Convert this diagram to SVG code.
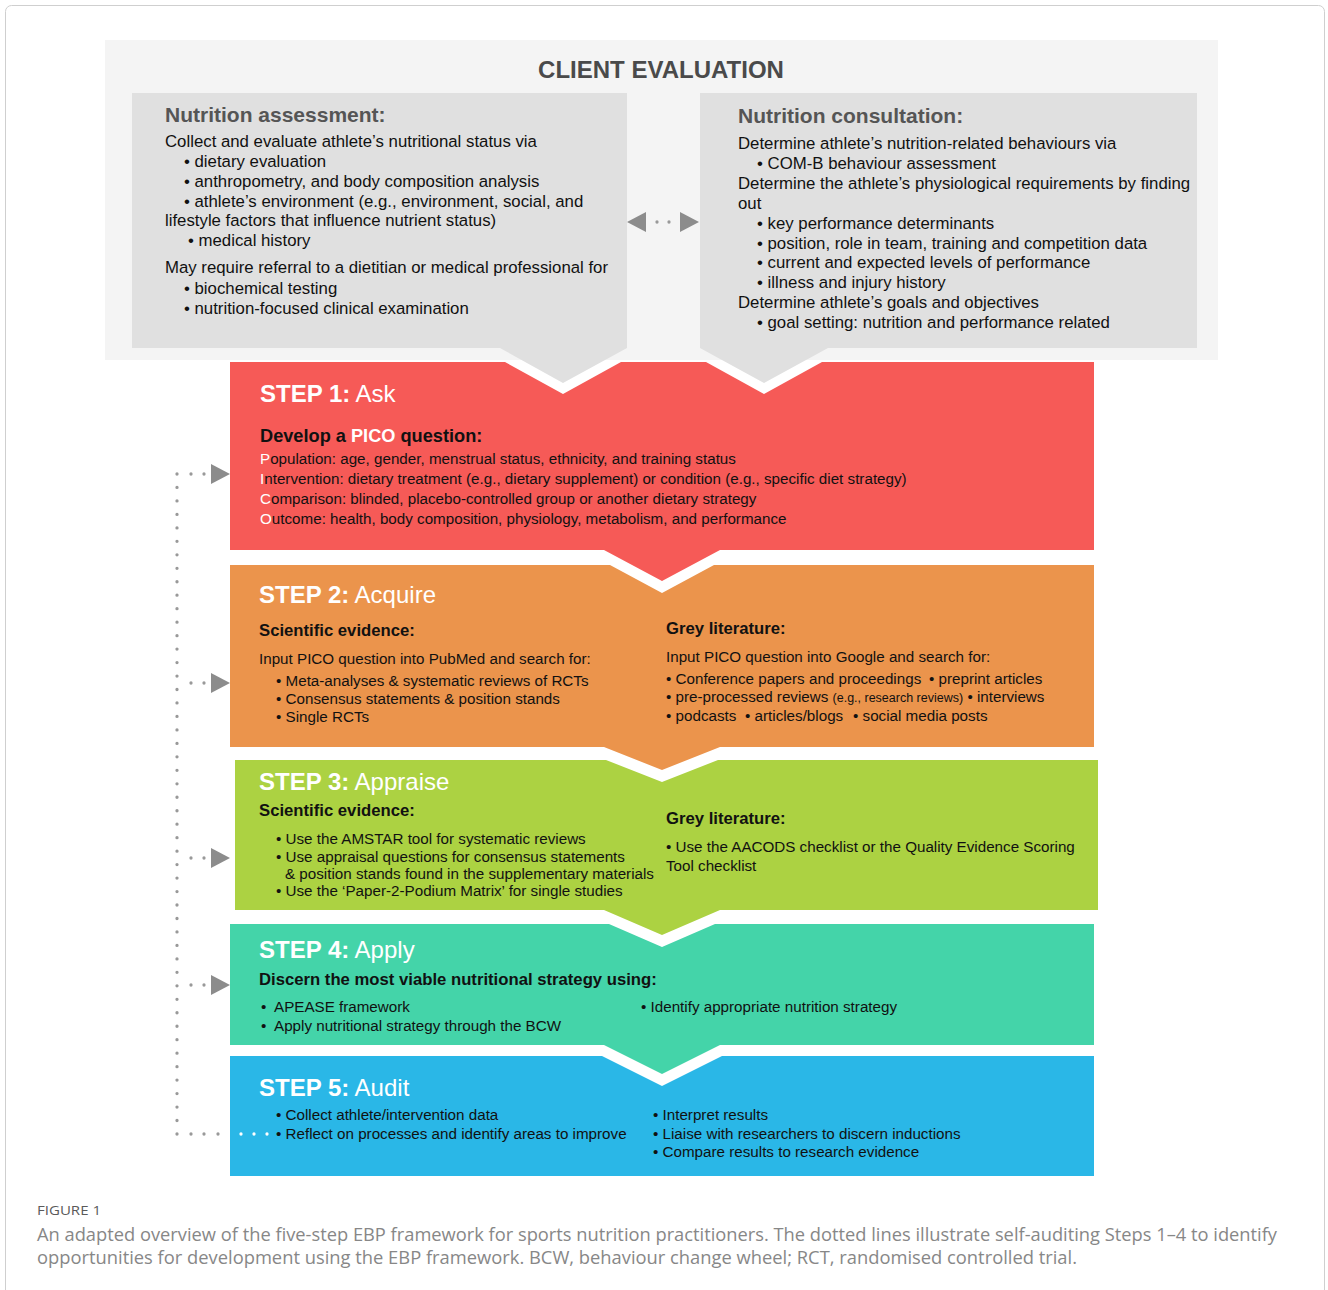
<svg xmlns="http://www.w3.org/2000/svg" width="1328" height="1290" viewBox="0 0 1328 1290">
<style>
text{font-family:"Liberation Sans",Arial,Helvetica,sans-serif}
.gh{font-size:21px;font-weight:bold;fill:#555}
.gb{font-size:16.8px;fill:#111}
.sh{font-size:24px;fill:#fff}
.sq{font-size:18.2px;font-weight:bold;fill:#111}
.ss{font-size:16.7px;font-weight:bold;fill:#111}
.sb{font-size:15.2px;fill:#111}
.w{fill:#fff}
.dot{fill:none;stroke:#999;stroke-width:3.3;stroke-linecap:round}
.d{fill:#999}
.dw{fill:#fff}
.head{fill:#8c8c8c}
.cap{font-family:"Open Sans","Liberation Sans",sans-serif;fill:#878787}
</style>
<defs>
<circle id="dt" r="1.65"/>
</defs>
<rect x="0" y="0" width="1328" height="1290" fill="#fff"/>
<rect x="5.5" y="5.5" width="1319" height="1310" rx="6" fill="none" stroke="#cfcfcf" stroke-width="1"/>

<g id="client-evaluation">
<rect x="105" y="40" width="1113" height="320" fill="#f4f4f4"/>
<text x="661" y="78" text-anchor="middle" style="font-size:24px;font-weight:bold;fill:#4a4a4a">CLIENT EVALUATION</text>
</g>

<g id="step1">
<polygon fill="#f65a57" points="230,362 505,362 563,394 621,362 706,362 764,394 822,362 1094,362 1094,550 720,550 662,581 604,550 230,550"/>
<text x="260" y="402" class="sh"><tspan font-weight="bold">STEP 1:</tspan> Ask</text>
<text x="260" y="442" class="sq">Develop a <tspan class="w">PICO</tspan> question:</text>
<text x="260" y="464" class="sb"><tspan class="w">P</tspan>opulation: age, gender, menstrual status, ethnicity, and training status</text>
<text x="260" y="484" class="sb"><tspan class="w">I</tspan>ntervention: dietary treatment (e.g., dietary supplement) or condition (e.g., specific diet strategy)</text>
<text x="260" y="504" class="sb"><tspan class="w">C</tspan>omparison: blinded, placebo-controlled group or another dietary strategy</text>
<text x="260" y="524" class="sb"><tspan class="w">O</tspan>utcome: health, body composition, physiology, metabolism, and performance</text>
</g>

<g id="step2">
<polygon fill="#eb944c" points="230,565 610,565 662,593 714,565 1094,565 1094,747 720,747 662,770 604,747 230,747"/>
<text x="259" y="603" class="sh"><tspan font-weight="bold">STEP 2:</tspan> Acquire</text>
<text x="259" y="636" class="ss">Scientific evidence:</text>
<text x="259" y="664" class="sb">Input PICO question into PubMed and search for:</text>
<text x="276" y="686" class="sb">• Meta-analyses &amp; systematic reviews of RCTs</text>
<text x="276" y="704" class="sb">• Consensus statements &amp; position stands</text>
<text x="276" y="722" class="sb">• Single RCTs</text>
<text x="666" y="634" class="ss">Grey literature:</text>
<text x="666" y="662" class="sb">Input PICO question into Google and search for:</text>
<text y="684" class="sb"><tspan x="666">• Conference papers and proceedings</tspan><tspan x="929">• preprint articles</tspan></text>
<text x="666" y="702" class="sb">• pre-processed reviews <tspan font-size="12.5">(e.g., research reviews)</tspan> • interviews</text>
<text y="721" class="sb"><tspan x="666">• podcasts</tspan><tspan x="745">• articles/blogs</tspan><tspan x="853">• social media posts</tspan></text>
</g>

<g id="step3">
<polygon fill="#acd242" points="235,760 606,760 662,782 718,760 1098,760 1098,910 720,910 662,935 604,910 235,910"/>
<text x="259" y="790" class="sh"><tspan font-weight="bold">STEP 3:</tspan> Appraise</text>
<text x="259" y="816" class="ss">Scientific evidence:</text>
<text x="276" y="844" class="sb">• Use the AMSTAR tool for systematic reviews</text>
<text x="276" y="862" class="sb">• Use appraisal questions for consensus statements</text>
<text x="285" y="879" class="sb">&amp; position stands found in the supplementary materials</text>
<text x="276" y="896" class="sb">• Use the ‘Paper-2-Podium Matrix’ for single studies</text>
<text x="666" y="824" class="ss">Grey literature:</text>
<text x="666" y="852" class="sb">• Use the AACODS checklist or the Quality Evidence Scoring</text>
<text x="666" y="871" class="sb">Tool checklist</text>
</g>

<g id="step4">
<polygon fill="#44d4a9" points="230,924 609,924 662,947 715,924 1094,924 1094,1045 720,1045 662,1074 604,1045 230,1045"/>
<text x="259" y="958" class="sh"><tspan font-weight="bold">STEP 4:</tspan> Apply</text>
<text x="259" y="985" class="ss">Discern the most viable nutritional strategy using:</text>
<text y="1012" class="sb"><tspan x="261">•</tspan><tspan x="274">APEASE framework</tspan></text>
<text y="1031" class="sb"><tspan x="261">•</tspan><tspan x="274">Apply nutritional strategy through the BCW</tspan></text>
<text x="641" y="1012" class="sb">• Identify appropriate nutrition strategy</text>
</g>

<g id="step5">
<polygon fill="#2ab7e7" points="230,1056 602,1056 662,1086 722,1056 1094,1056 1094,1176 230,1176"/>
<text x="259" y="1096" class="sh"><tspan font-weight="bold">STEP 5:</tspan> Audit</text>
<text x="276" y="1120" class="sb">• Collect athlete/intervention data</text>
<text x="276" y="1139" class="sb">• Reflect on processes and identify areas to improve</text>
<text x="653" y="1120" class="sb">• Interpret results</text>
<text x="653" y="1139" class="sb">• Liaise with researchers to discern inductions</text>
<text x="653" y="1157" class="sb">• Compare results to research evidence</text>
</g>

<g id="nutrition-assessment">
<polygon fill="#e0e0e0" points="132,93 627,93 627,348 563,383 500,348 132,348"/>
<text x="165" y="122" class="gh">Nutrition assessment:</text>
<text x="165" y="147" class="gb">Collect and evaluate athlete’s nutritional status via</text>
<text x="184" y="167" class="gb">• dietary evaluation</text>
<text x="184" y="187" class="gb">• anthropometry, and body composition analysis</text>
<text x="184" y="207" class="gb">• athlete’s environment (e.g., environment, social, and</text>
<text x="165" y="226" class="gb">lifestyle factors that influence nutrient status)</text>
<text x="188" y="246" class="gb">• medical history</text>
<text x="165" y="273" class="gb">May require referral to a dietitian or medical professional for</text>
<text x="184" y="294" class="gb">• biochemical testing</text>
<text x="184" y="314" class="gb">• nutrition-focused clinical examination</text>
</g>

<g id="nutrition-consultation">
<polygon fill="#e0e0e0" points="700,93 1197,93 1197,348 828,348 764,383 700,348"/>
<text x="738" y="123" class="gh">Nutrition consultation:</text>
<text x="738" y="149" class="gb">Determine athlete’s nutrition-related behaviours via</text>
<text x="757" y="169" class="gb">• COM-B behaviour assessment</text>
<text x="738" y="189" class="gb">Determine the athlete’s physiological requirements by finding</text>
<text x="738" y="209" class="gb">out</text>
<text x="757" y="229" class="gb">• key performance determinants</text>
<text x="757" y="249" class="gb">• position, role in team, training and competition data</text>
<text x="757" y="268" class="gb">• current and expected levels of performance</text>
<text x="757" y="288" class="gb">• illness and injury history</text>
<text x="738" y="308" class="gb">Determine athlete’s goals and objectives</text>
<text x="757" y="328" class="gb">• goal setting: nutrition and performance related</text>
</g>

<g id="connectors">
<use href="#dt" class="d" x="657" y="222"/>
<use href="#dt" class="d" x="669" y="222"/>
<polygon class="head" points="627,222 646,212 646,232"/>
<polygon class="head" points="680,212 699,222 680,232"/>
<line class="dot" x1="177" y1="474" x2="177" y2="1134.4" stroke-dasharray="0 13.469"/>
<use href="#dt" class="d" x="191" y="474"/><use href="#dt" class="d" x="204" y="474"/>
<polygon class="head" points="211,464 230,474 211,484"/>
<use href="#dt" class="d" x="191" y="683"/><use href="#dt" class="d" x="204" y="683"/>
<polygon class="head" points="211,673 230,683 211,693"/>
<use href="#dt" class="d" x="191" y="858"/><use href="#dt" class="d" x="204" y="858"/>
<polygon class="head" points="211,848 230,858 211,868"/>
<use href="#dt" class="d" x="191" y="985"/><use href="#dt" class="d" x="204" y="985"/>
<polygon class="head" points="211,975 230,985 211,995"/>
<use href="#dt" class="d" x="191" y="1134"/><use href="#dt" class="d" x="204" y="1134"/><use href="#dt" class="d" x="218" y="1134"/>
<use href="#dt" class="dw" x="241" y="1134"/><use href="#dt" class="dw" x="254" y="1134"/><use href="#dt" class="dw" x="267" y="1134"/>
</g>

<g id="caption">
<text x="37" y="1215" class="cap" style="font-size:13px;fill:#5a5a5a" textLength="64" lengthAdjust="spacingAndGlyphs">FIGURE 1</text>
<text x="37" y="1241" class="cap" style="font-size:17.5px" textLength="1240" lengthAdjust="spacingAndGlyphs">An adapted overview of the five-step EBP framework for sports nutrition practitioners. The dotted lines illustrate self-auditing Steps 1–4 to identify</text>
<text x="37" y="1264" class="cap" style="font-size:17.5px" textLength="1040" lengthAdjust="spacingAndGlyphs">opportunities for development using the EBP framework. BCW, behaviour change wheel; RCT, randomised controlled trial.</text>
</g>
</svg>
